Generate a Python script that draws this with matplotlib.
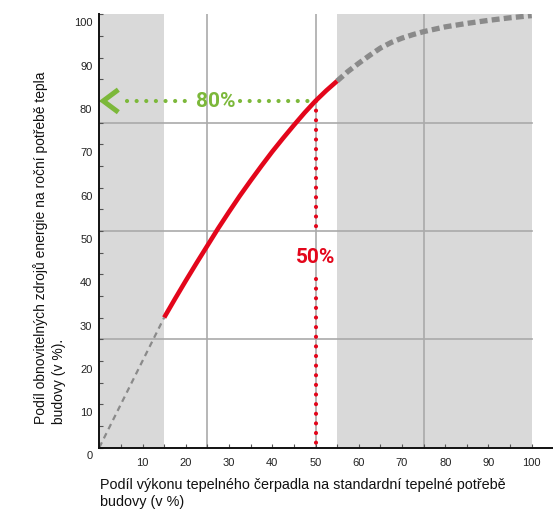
import matplotlib
matplotlib.use("Agg")
import matplotlib.pyplot as plt
import matplotlib.transforms as mtransforms
import numpy as np

# data
lead_x = [0, 15]
lead_y = [0, 30]
red_x = [15, 17.5, 20, 22.5, 25, 27.5, 30, 32.5, 35, 37.5, 40, 42.5, 45, 47.5, 50, 52.5, 55]
red_y = [30, 34.3, 38.5, 42.6, 46.6, 50.6, 54.4, 58.1, 61.6, 65.0, 68.3, 71.4, 74.4, 77.3, 80.0, 82.4, 84.6]
tail_x = [55, 57.5, 60, 62.5, 65, 67.5, 70, 72.5, 75, 80, 85, 90, 95, 100]
tail_y = [84.6, 86.8, 88.7, 90.5, 92.2, 93.5, 94.5, 95.3, 96.0, 97.1, 97.9, 98.6, 99.2, 99.7]
shade_regions = [(0, 15), (55, 100)]
grid_vals = [25, 50, 75]
x_ticks = [10, 20, 30, 40, 50, 60, 70, 80, 90, 100]
y_ticks = [0, 10, 20, 30, 40, 50, 60, 70, 80, 90, 100]
point_x = 50
point_y = 80
label_x = "Podíl výkonu tepelného čerpadla na standardní tepelné potřebě\nbudovy (v %)"
label_y = "Podíl obnovitelných zdrojů energie na roční potřebě tepla\nbudovy (v %)."

plt.rcParams['font.family'] = ['Liberation Sans', 'DejaVu Sans']

W, H = 553, 510
fig = plt.figure(figsize=(W/100, H/100), dpi=100)
x0, x1 = 99.3, 553
y0, y1 = 448.5, 15.3
ax = fig.add_axes([x0/W, 1 - y0/H, (x1 - x0)/W, (y0 - y1)/H])
xmax = 100 * (x1 - x0) / (531.7 - x0)
ax.set_xlim(0, xmax)
ax.set_ylim(0, 100)

GREEN = '#7cb83a'
RED = '#e3061b'

for a, b in shade_regions:
    ax.fill_between([a, b], 0, 100, color='#d9d9d9', lw=0, zorder=0)
for g in grid_vals:
    ax.plot([g, g], [0, 100], color='#aaaaaa', lw=1.2, zorder=1)
    ax.plot([0, 100], [g, g], color='#aaaaaa', lw=1.2, zorder=1)

ax.plot(lead_x, lead_y, color='#8a8a8a', lw=1.6, dashes=(2.6, 2.0), zorder=2)
ax.plot(tail_x, tail_y, color='#8a8a8a', lw=3.8, dashes=(1.5, 0.8), zorder=2)
ax.plot(red_x, red_y, color=RED, lw=3.3, solid_capstyle='butt', solid_joinstyle='round', zorder=3)

label_font = dict(fontsize=15, fontweight='bold',
                  family=['Roboto', 'DejaVu Sans'], ha='center', va='center', zorder=5)

# green dotted arrow
dot_kw = dict(lw=3.0, dashes=(0.01, 2.3), dash_capstyle='round', zorder=4)
ax.plot([6.3, 21.2], [point_y, point_y], color=GREEN, **dot_kw)
ax.plot([32.6, point_x], [point_y, point_y], color=GREEN, **dot_kw)
ax.plot([4.4, 0.9, 4.4], [point_y + 2.6, point_y, point_y - 2.6], color=GREEN, lw=3.6,
        solid_joinstyle='miter', solid_capstyle='butt', zorder=4)
ax.text(26.9, point_y, "80%", color=GREEN, **label_font)

# red dotted vertical
ax.plot([point_x, point_x], [point_y, 50], color=RED, **dot_kw)
ax.plot([point_x, point_x], [39.0, 0], color=RED, **dot_kw)
ax.text(point_x, 44.2, "50%", color=RED, **label_font)

for s in ['top', 'right']:
    ax.spines[s].set_visible(False)
for s in ['left', 'bottom']:
    ax.spines[s].set_linewidth(1.4)
    ax.spines[s].set_color('#111111')
    ax.spines[s].set_zorder(6)

ax.set_xticks(x_ticks)
ax.set_xticklabels([str(v) for v in x_ticks])
ax.set_yticks(y_ticks)
ax.set_yticklabels([str(v) for v in y_ticks])
ax.set_xticks(np.arange(5, 101, 5), minor=True)
ax.set_yticks(np.arange(5, 101, 5), minor=True)
ax.tick_params(which='both', direction='in', length=3, width=0.8, color='#555555',
               labelsize=8, labelcolor='#222222')
ax.tick_params(axis='x', which='major', pad=7)
ax.tick_params(axis='y', which='major', pad=5)

offset = mtransforms.ScaledTranslation(0, -0.07, fig.dpi_scale_trans)
for lab in ax.get_yticklabels():
    lab.set_transform(lab.get_transform() + offset)

fig.text(100/W, 1 - 493.5/H, label_x, fontsize=10.4, ha='left', va='center',
         linespacing=1.3, color='#111111')
fig.text(49.5/W, 1 - 424/H, label_y, fontsize=10, rotation=90, ha='center', va='bottom',
         multialignment='left', linespacing=1.4, color='#111111')

fig.savefig('out.png', dpi=100)
